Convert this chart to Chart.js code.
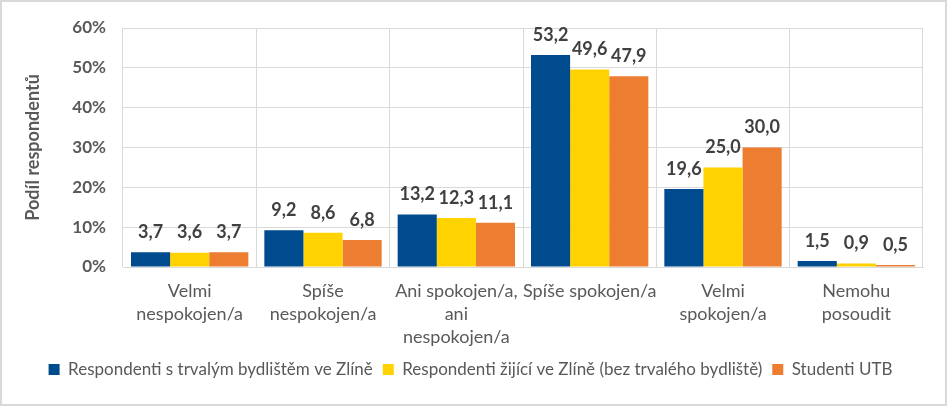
<!DOCTYPE html>
<html>
<head>
<meta charset="utf-8">
<script src="https://cdn.jsdelivr.net/npm/chart.js@4"></script>
<style>
  html, body { margin: 0; padding: 0; background: #fff; }
  #wrap { width: 947px; height: 406px; }
</style>
</head>
<body>
<div id="wrap"><canvas id="chart" width="947" height="406"></canvas></div>
<script>
// kategorie a hodnoty (v %)
var categories = [
    ['Velmi', 'nespokojen/a'],
    ['Spíše', 'nespokojen/a'],
    ['Ani spokojen/a,', 'ani', 'nespokojen/a'],
    ['Spíše spokojen/a'],
    ['Velmi', 'spokojen/a'],
    ['Nemohu', 'posoudit']
];
var seriesNames = [
    'Respondenti s trvalým bydlištěm ve Zlíně',
    'Respondenti žijící ve Zlíně (bez trvalého bydliště)',
    'Studenti UTB'
];
var trvale = [3.7, 9.2, 13.2, 53.2, 19.6, 1.5];
var zijici = [3.6, 8.6, 12.3, 49.6, 25.0, 0.9];
var studenti = [3.7, 6.8, 11.1, 47.9, 30.0, 0.5];
var colors = ['#004B8D', '#FFD200', '#ED7D31'];

var FONT = 'Lato, "Open Sans", sans-serif';

// popisky hodnot nad sloupci
var valueLabels = {
    id: 'valueLabels',
    afterDatasetsDraw: function(chart) {
        var ctx = chart.ctx;
        ctx.save();
        ctx.font = 'bold 18px ' + FONT;
        ctx.fillStyle = '#404040';
        ctx.textAlign = 'center';
        ctx.textBaseline = 'middle';
        chart.data.datasets.forEach(function(ds, i) {
            chart.getDatasetMeta(i).data.forEach(function(bar, j) {
                ctx.fillText(ds.data[j].toFixed(1).replace('.', ','), bar.x, bar.y - 20);
            });
        });
        ctx.restore();
    }
};

// ramecek kolem grafu
var frame = {
    id: 'frame',
    afterDraw: function(chart) {
        var ctx = chart.ctx;
        ctx.save();
        ctx.strokeStyle = '#d9d9d9';
        ctx.lineWidth = 2;
        ctx.strokeRect(1, 1, chart.width - 2, chart.height - 2);
        ctx.restore();
    }
};

new Chart(document.getElementById('chart').getContext('2d'), {
    type: 'bar',
    data: {
        labels: categories,
        datasets: [
            { label: seriesNames[0], data: trvale, backgroundColor: colors[0] },
            { label: seriesNames[1], data: zijici, backgroundColor: colors[1] },
            { label: seriesNames[2], data: studenti, backgroundColor: colors[2] }
        ]
    },
    options: {
        responsive: false,
        animation: false,
        devicePixelRatio: 1,
        layout: { padding: { left: 18, right: 24, top: 28, bottom: 18 } },
        datasets: { bar: { categoryPercentage: 0.88, barPercentage: 1.0 } },
        scales: {
            x: {
                grid: { color: '#d9d9d9', offset: true, drawTicks: false },
                border: { color: '#d9d9d9' },
                ticks: {
                    color: '#595959',
                    font: { family: FONT, size: 18, lineHeight: 1.3 },
                    padding: 12,
                    maxRotation: 0,
                    autoSkip: false
                },
                afterFit: function(scale) { scale.height = 84; }
            },
            y: {
                min: 0,
                max: 60,
                grid: { color: '#d9d9d9', drawTicks: false },
                border: { display: false },
                ticks: {
                    stepSize: 10,
                    color: '#595959',
                    font: { family: FONT, size: 17, weight: 'bold' },
                    padding: 17,
                    callback: function(v) { return v + '%'; }
                },
                title: {
                    display: true,
                    text: 'Podíl respondentů',
                    color: '#595959',
                    font: { family: FONT, size: 18, weight: 'bold' }
                },
                afterFit: function(scale) { scale.width = 105; }
            }
        },
        plugins: {
            legend: {
                position: 'bottom',
                labels: {
                    color: '#595959',
                    font: { family: FONT, size: 17 },
                    boxWidth: 11,
                    boxHeight: 11,
                    padding: 10
                }
            },
            tooltip: { enabled: false }
        }
    },
    plugins: [valueLabels, frame]
});
</script>
</body>
</html>
